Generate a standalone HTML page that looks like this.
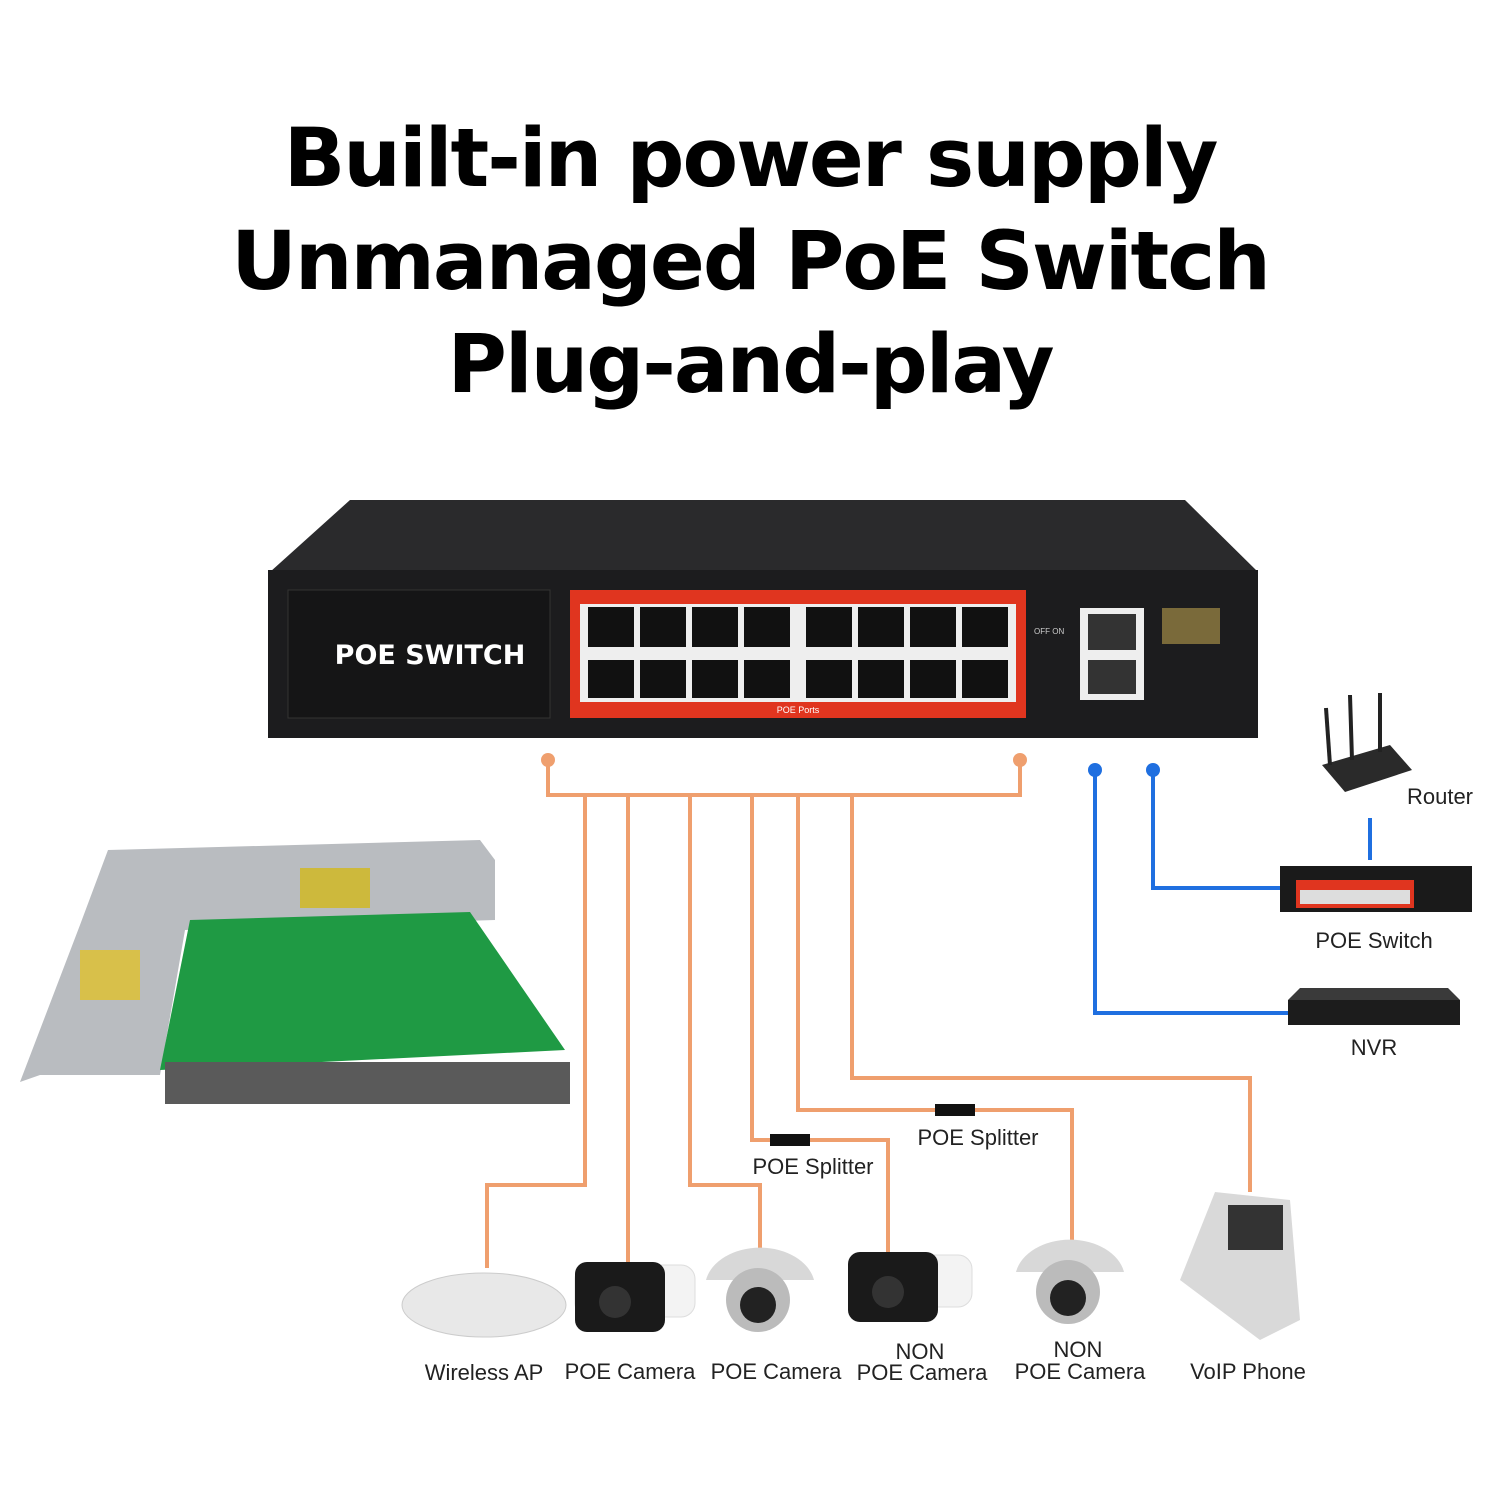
<!DOCTYPE html>
<html><head><meta charset="utf-8"><style>
html,body{margin:0;padding:0;background:#fff;}
body{width:1500px;height:1500px;position:relative;overflow:hidden;font-family:"Liberation Sans","DejaVu Sans",sans-serif;}
.t{position:absolute;left:0;width:1500px;text-align:center;font-weight:bold;color:#000;font-family:"DejaVu Sans","Liberation Sans",sans-serif;font-size:81px;letter-spacing:-2px;}
</style></head><body>
<div class="t" style="top:112px;">Built-in power supply</div>
<div class="t" style="top:215px;">Unmanaged PoE Switch</div>
<div class="t" style="top:318px;">Plug-and-play</div>

<svg width="1500" height="1500" style="position:absolute;left:0;top:0" xmlns="http://www.w3.org/2000/svg">
<polygon points="350,500 1185,500 1258,572 270,572" fill="#2a2a2c"/>
<rect x="268" y="570" width="990" height="168" fill="#1c1c1e"/>
<rect x="288" y="590" width="262" height="128" fill="#151516" stroke="#333" />
<text x="430" y="664" fill="#fff" font-size="27" font-weight="bold" text-anchor="middle" font-family="DejaVu Sans">POE SWITCH</text>
<rect x="570" y="590" width="456" height="128" fill="#e0351f"/>
<rect x="580" y="604" width="436" height="98" fill="#eee"/>
<g fill="#111">
<rect x="588" y="607" width="46" height="40"/><rect x="640" y="607" width="46" height="40"/><rect x="692" y="607" width="46" height="40"/><rect x="744" y="607" width="46" height="40"/>
<rect x="806" y="607" width="46" height="40"/><rect x="858" y="607" width="46" height="40"/><rect x="910" y="607" width="46" height="40"/><rect x="962" y="607" width="46" height="40"/>
<rect x="588" y="660" width="46" height="38"/><rect x="640" y="660" width="46" height="38"/><rect x="692" y="660" width="46" height="38"/><rect x="744" y="660" width="46" height="38"/>
<rect x="806" y="660" width="46" height="38"/><rect x="858" y="660" width="46" height="38"/><rect x="910" y="660" width="46" height="38"/><rect x="962" y="660" width="46" height="38"/>
</g>
<text x="798" y="713" fill="#fff" font-size="9" text-anchor="middle">POE Ports</text>
<rect x="1080" y="608" width="64" height="92" fill="#eee"/>
<rect x="1088" y="614" width="48" height="36" fill="#333"/><rect x="1088" y="660" width="48" height="34" fill="#333"/>
<rect x="1162" y="608" width="58" height="36" fill="#7a6a3a"/>
<text x="1034" y="634" fill="#ccc" font-size="8">OFF ON</text>
<g stroke="#ef9f6e" stroke-width="4" fill="none">
<polyline points="548,760 548,795 1020,795 1020,760"/>
<polyline points="585,795 585,1185 487,1185 487,1268"/>
<polyline points="628,795 628,1268"/>
<polyline points="690,795 690,1185 760,1185 760,1250"/>
<polyline points="752,795 752,1140 860,1140 888,1140 888,1255"/>
<polyline points="798,795 798,1110 1072,1110 1072,1245"/>
<polyline points="852,795 852,1078 1250,1078 1250,1192"/>
</g>
<circle cx="548" cy="760" r="7" fill="#ef9f6e"/><circle cx="1020" cy="760" r="7" fill="#ef9f6e"/>
<rect x="770" y="1134" width="40" height="12" fill="#111"/><rect x="935" y="1104" width="40" height="12" fill="#111"/>
<g stroke="#1f6fe0" stroke-width="4" fill="none">
<polyline points="1095,770 1095,1013 1290,1013"/>
<polyline points="1153,770 1153,888 1282,888"/>
<line x1="1370" y1="818" x2="1370" y2="860"/>
</g>
<circle cx="1095" cy="770" r="7" fill="#1f6fe0"/><circle cx="1153" cy="770" r="7" fill="#1f6fe0"/>
<polygon points="1322,765 1390,745 1412,770 1345,792" fill="#2a2a2a"/>
<g stroke="#222" stroke-width="4"><line x1="1330" y1="765" x2="1326" y2="708"/><line x1="1352" y1="760" x2="1350" y2="695"/><line x1="1380" y1="752" x2="1380" y2="693"/></g>
<rect x="1280" y="866" width="192" height="46" fill="#1a1a1a"/>
<rect x="1296" y="880" width="118" height="28" fill="#e0351f"/>
<rect x="1300" y="890" width="110" height="14" fill="#ddd"/>
<polygon points="1300,988 1448,988 1460,1000 1288,1000" fill="#3a3a3a"/>
<rect x="1288" y="1000" width="172" height="25" fill="#1c1c1c"/>
<!-- PCB -->
<polygon points="108,850 480,840 495,860 495,920 185,930 160,1075 40,1075 20,1082 80,925" fill="#b9bcc0"/>
<polygon points="190,920 470,912 565,1050 160,1070" fill="#1f9a44"/>
<rect x="165" y="1062" width="405" height="42" fill="#5a5a5a"/>
<rect x="80" y="950" width="60" height="50" fill="#d8c04a"/>
<rect x="300" y="868" width="70" height="40" fill="#cdb93c"/>
<ellipse cx="484" cy="1305" rx="82" ry="32" fill="#e8e8e8" stroke="#ccc"/>
<g>
<rect x="575" y="1265" width="120" height="52" rx="14" fill="#f3f3f3" stroke="#ddd"/>
<rect x="575" y="1262" width="90" height="70" rx="12" fill="#1a1a1a"/><circle cx="615" cy="1302" r="16" fill="#333"/>
<rect x="850" y="1255" width="122" height="52" rx="14" fill="#f3f3f3" stroke="#ddd"/>
<rect x="848" y="1252" width="90" height="70" rx="12" fill="#1a1a1a"/><circle cx="888" cy="1292" r="16" fill="#333"/>
<path d="M706,1280 a55,40 0 0 1 108,0 z" fill="#d8d8d8"/><circle cx="758" cy="1300" r="32" fill="#bbb"/><circle cx="758" cy="1305" r="18" fill="#222"/>
<path d="M1016,1272 a55,40 0 0 1 108,0 z" fill="#d8d8d8"/><circle cx="1068" cy="1292" r="32" fill="#bbb"/><circle cx="1068" cy="1298" r="18" fill="#222"/>
</g>
<polygon points="1215,1192 1290,1200 1300,1320 1260,1340 1180,1280" fill="#d9d9d9"/>
<rect x="1228" y="1205" width="55" height="45" fill="#333"/>
<g font-family="Liberation Sans" font-size="22" fill="#222" text-anchor="middle">
<text x="1440" y="804">Router</text>
<text x="1374" y="948">POE Switch</text>
<text x="1374" y="1055">NVR</text>
<text x="813" y="1174">POE Splitter</text>
<text x="978" y="1145">POE Splitter</text>
<text x="484" y="1380">Wireless AP</text>
<text x="630" y="1379">POE Camera</text>
<text x="776" y="1379">POE Camera</text>
<text x="920" y="1359">NON</text>
<text x="922" y="1380">POE Camera</text>
<text x="1078" y="1357">NON</text>
<text x="1080" y="1379">POE Camera</text>
<text x="1248" y="1379">VoIP Phone</text>
</g>
</svg>
</body></html>
